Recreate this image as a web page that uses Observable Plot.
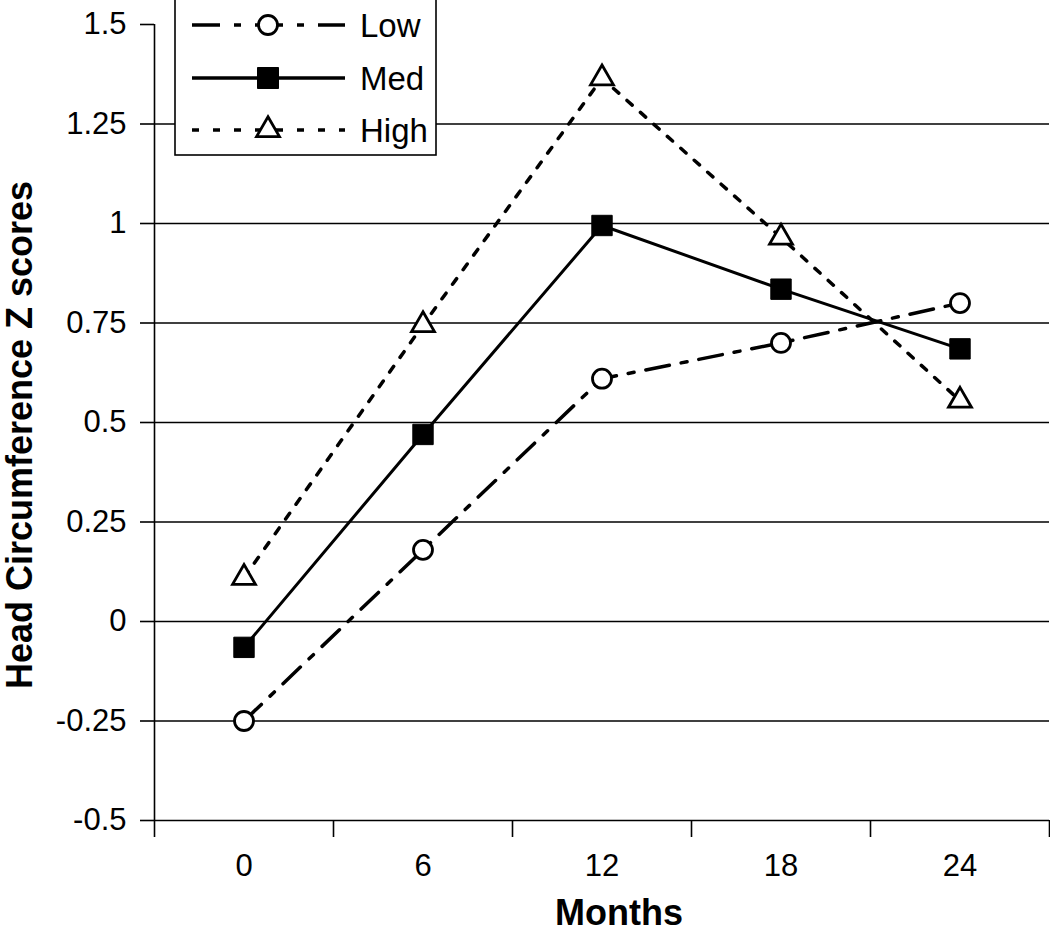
<!DOCTYPE html>
<html>
<head>
<meta charset="utf-8">
<script src="https://cdn.jsdelivr.net/npm/d3@7"></script>
<script src="https://cdn.jsdelivr.net/npm/@observablehq/plot@0.6"></script>
<style>
  html, body { margin: 0; padding: 0; background: white; }
</style>
</head>
<body>
<div id="chart"></div>
<script>
const months = [0, 6, 12, 18, 24];
const seriesNames = ["Low", "Med", "High"];
const lowValues = [-0.25, 0.18, 0.61, 0.70, 0.80];
const medValues = [-0.065, 0.47, 0.995, 0.835, 0.685];
const highValues = [0.11, 0.745, 1.365, 0.965, 0.555];
const yTicks = [-0.5, -0.25, 0, 0.25, 0.5, 0.75, 1, 1.25, 1.5];
const xBoundaries = [-3, 3, 9, 15, 21, 27];
const yTitle = "Head Circumference Z scores";
const xTitle = "Months";

const rows = (vals) => months.map((m, i) => ({month: m, value: vals[i]}));
const low = rows(lowValues), med = rows(medValues), high = rows(highValues);

const FONT = "'Liberation Sans', Arial, sans-serif";
const W = 1050, H = 931;
const svg = Plot.plot({
  width: W, height: H,
  marginLeft: 154, marginRight: 1, marginTop: 24, marginBottom: 111,
  style: {fontFamily: FONT, fontSize: "31px", color: "black", background: "white", overflow: "visible"},
  x: {type: "linear", domain: [-3, 27]},
  y: {domain: [-0.5, 1.5]},
  marks: [
    Plot.ruleY(yTicks.filter(d => d > -0.5 && d < 1.5), {stroke: "black", strokeWidth: 1.3}),
    Plot.ruleY([-0.5], {stroke: "black", strokeWidth: 1.6}),
    Plot.ruleX([-3], {stroke: "black", strokeWidth: 1.6}),
    Plot.axisY(yTicks, {tickSize: 14, tickPadding: 14, tickFormat: d => String(d), strokeWidth: 1.6, label: null}),
    Plot.axisX(xBoundaries, {tickSize: 17, tickFormat: () => "", strokeWidth: 1.6, label: null}),
    Plot.axisX(months, {tickSize: 0, tickPadding: 33, tickFormat: d => String(d), label: null}),
    Plot.line(low, {x: "month", y: "value", stroke: "black", strokeWidth: 3.5, strokeDasharray: "24,12,6,12"}),
    Plot.line(med, {x: "month", y: "value", stroke: "black", strokeWidth: 3}),
    Plot.line(high, {x: "month", y: "value", stroke: "black", strokeWidth: 3.5, strokeDasharray: "7,11"}),
    Plot.dot(low, {x: "month", y: "value", symbol: "circle", r: 9.5, fill: "white", stroke: "black", strokeWidth: 2.8}),
    Plot.dot(med, {x: "month", y: "value", symbol: "square", r: 11.5, fill: "black", stroke: "black", strokeWidth: 1}),
    Plot.dot(high, {x: "month", y: "value", symbol: "triangle", r: 8.5, fill: "white", stroke: "black", strokeWidth: 2.8})
  ]
});
document.getElementById("chart").appendChild(svg);

const s = d3.select(svg);
s.selectAll('g[aria-label$="tick label"]').style("font-size", "31px").style("font-family", FONT);
s.selectAll('g[aria-label$="tick label"] text').style("font-size", "31px");

// axis titles
s.append("text")
  .attr("transform", "translate(32,435) rotate(-90)")
  .attr("text-anchor", "middle")
  .style("font-weight", "bold").style("font-size", "36px")
  .style("font-family", FONT)
  .attr("fill", "black")
  .text(yTitle);
s.append("text")
  .attr("x", 619).attr("y", 925)
  .attr("text-anchor", "middle")
  .style("font-weight", "bold").style("font-size", "36px")
  .style("font-family", FONT)
  .attr("fill", "black")
  .text(xTitle);

// legend
const lg = s.append("g");
lg.append("rect").attr("x", 175).attr("y", -1).attr("width", 261).attr("height", 156)
  .attr("fill", "white").attr("stroke", "black").attr("stroke-width", 1.6);
const legendItems = [
  {name: seriesNames[0], y: 25, dash: "28,14,7,14", sym: d3.symbolCircle, fill: "white", size: Math.PI * 9.5 * 9.5, sw: 2.8},
  {name: seriesNames[1], y: 78, dash: null, sym: d3.symbolSquare, fill: "black", size: 21 * 21, sw: 1},
  {name: seriesNames[2], y: 130, dash: "7,14", sym: d3.symbolTriangle, fill: "white", size: Math.PI * 8.5 * 8.5, sw: 2.8}
];
for (const it of legendItems) {
  const ln = lg.append("line").attr("x1", 192).attr("x2", 345).attr("y1", it.y).attr("y2", it.y)
    .attr("stroke", "black").attr("stroke-width", 3.5);
  if (it.dash) ln.attr("stroke-dasharray", it.dash);
  lg.append("path").attr("d", d3.symbol(it.sym, it.size)())
    .attr("transform", `translate(268,${it.y})`)
    .attr("fill", it.fill).attr("stroke", "black").attr("stroke-width", it.sw);
  lg.append("text").attr("x", 360).attr("y", it.y).attr("dy", "0.36em")
    .attr("text-anchor", "start")
    .style("font-size", "33px").style("font-family", FONT)
    .attr("fill", "black").text(it.name);
}
</script>
</body>
</html>
